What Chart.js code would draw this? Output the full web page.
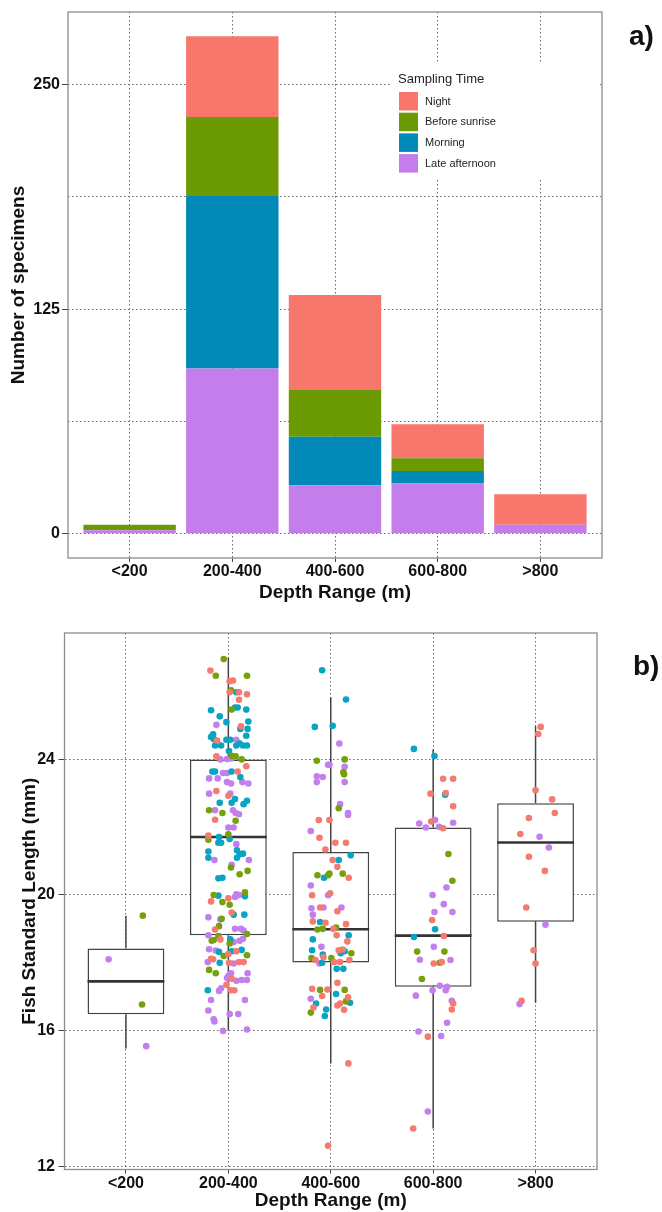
<!DOCTYPE html>
<html>
<head>
<meta charset="utf-8">
<script src="https://cdn.jsdelivr.net/npm/chart.js@4.4.1/dist/chart.umd.min.js"></script>
<style>
  body { margin: 0; background: #fff; }
  #wrap { position: relative; width: 662px; height: 1212px; overflow: hidden; }
  canvas { position: absolute; left: 0; }
  #barChart { top: 0; }
  #boxChart { top: 605px; }
  .panel { position: absolute; font: bold 28px 'Liberation Sans', Arial, sans-serif; color: #111; line-height: 32px; }
</style>
</head>
<body>
<div id="wrap">
  <canvas id="barChart" width="662" height="605"></canvas>
  <canvas id="boxChart" width="662" height="607"></canvas>
  <div class="panel" style="left:629px; top:20px;">a)</div>
  <div class="panel" style="left:633px; top:650px;">b)</div>
</div>
<script>
// ================================
// Data: shared categories
// ================================
const depthLabels = ["<200", "200-400", "400-600", "600-800", ">800"];

// ================================
// Data: panel a) number of specimens per sampling time
// ================================
const lateAfternoon = [2, 92, 27, 28, 5];
const morning       = [0, 96, 27, 7, 0];
const beforeSunrise = [3, 44, 26, 7, 0];
const night         = [0, 45, 53, 19, 17];
const countTicks  = [0, 62.5, 125, 187.5, 250];
const countLabels = [0, 125, 250];

// ================================
// Data: panel b) box plot statistics (mm)
// ================================
const whiskerLow  = [15.47, 16.0, 15.03, 13.11, 16.82];
const q1          = [16.48, 18.81, 18.01, 17.29, 19.21];
const median      = [17.45, 21.71, 18.99, 18.80, 21.55];
const q3          = [18.42, 24.0, 21.27, 21.99, 22.71];
const whiskerHigh = [19.39, 27.0, 25.83, 24.29, 24.98];
const lengthTicks = [12, 16, 20, 24];

// jittered specimens: [x on depth axis, standard length]
const nightPts = [
  [1.825,26.62],[2.013,26.31],[2.045,26.33],[2.013,25.98],[2.104,25.98],[2.182,25.92],[2.104,25.76],[2.123,24.98],
  [1.89,24.56],[1.883,24.09],[2.175,23.8],[2.091,23.64],[1.883,23.07],[2.0,22.93],[1.87,22.22],[1.805,21.75],
  [2.0,19.9],[1.831,19.81],[2.032,19.48],[1.87,18.98],[1.922,18.69],[2.0,18.26],[2.078,18.34],[1.831,18.12],
  [1.851,18.1],[2.006,18.0],[2.104,18.02],[2.149,18.02],[2.032,17.53],[1.981,17.35],[2.026,17.19],[2.058,17.19],
  [2.883,22.21],[2.987,22.21],[2.89,21.69],[3.045,21.54],[3.149,21.54],[2.948,21.34],[3.019,21.03],[3.065,20.83],
  [3.175,20.51],[2.818,19.99],[2.994,20.05],[2.896,19.63],[3.065,19.52],[2.825,19.22],[2.948,19.18],[3.149,19.14],
  [3.026,19.0],[3.058,18.81],[3.162,18.63],[3.078,18.37],[3.117,18.39],[2.851,18.08],[2.929,18.16],[3.032,18.02],
  [3.091,18.02],[3.182,18.08],[3.065,17.41],[2.818,17.23],[2.968,17.21],[2.916,17.02],[3.169,16.98],[3.091,16.8],
  [3.065,16.74],[2.831,16.68],[3.13,16.61],[3.172,15.03],[2.974,12.6],
  [4.097,23.43],[4.195,23.43],[3.974,22.99],[4.123,23.01],[4.195,22.62],[3.981,22.17],[4.097,21.97],[3.99,19.26],
  [4.104,18.79],[4.006,17.98],[4.084,18.02],[4.195,16.8],[4.182,16.62],[3.948,15.82],[3.805,13.11],
  [5.05,24.96],[5.026,24.75],[5.0,23.09],[5.162,22.82],[5.188,22.42],[4.935,22.27],[4.851,21.8],[4.935,21.13],
  [5.091,20.71],[4.909,19.63],[4.981,18.37],[5.0,17.98],[4.864,16.88]
];
const sunrisePts = [
  [1.165,19.39],[1.157,16.77],
  [1.955,26.96],[1.877,26.47],[2.182,26.47],[2.026,26.04],[2.032,25.47],[2.032,24.11],[2.071,24.09],[2.13,24.0],
  [1.812,22.5],[1.942,22.42],[2.071,22.19],[2.0,21.79],[1.805,21.63],[2.026,20.81],[2.188,20.71],[2.11,20.61],
  [2.162,20.08],[1.857,20.0],[1.942,19.79],[2.013,19.71],[1.935,19.3],[1.909,19.08],[2.182,18.85],[1.903,18.79],
  [1.838,18.65],[1.857,18.67],[2.013,18.57],[1.955,18.2],[2.182,18.22],[1.812,17.79],[1.877,17.69],
  [2.864,23.96],[3.136,24.0],[3.123,23.62],[3.13,23.56],[3.078,22.56],[2.87,20.58],[2.974,20.58],[2.987,20.63],
  [3.117,20.63],[2.87,18.98],[2.922,19.0],[3.052,19.04],[3.201,18.28],[2.812,18.14],[3.006,18.14],[2.896,17.2],
  [3.136,17.2],[3.149,16.86],[2.805,16.53],
  [4.149,21.21],[4.188,20.42],[3.844,18.33],[4.11,18.33],[4.065,18.0],[3.89,17.52]
];
const morningPts = [
  [2.078,25.98],[1.831,25.45],[2.065,25.53],[2.091,25.53],[2.175,25.47],[1.916,25.27],[1.981,25.1],[2.195,25.12],
  [2.117,24.9],[2.188,24.9],[1.851,24.74],[1.831,24.66],[2.175,24.7],[1.857,24.6],[1.981,24.58],[2.019,24.58],
  [2.11,24.47],[2.143,24.41],[2.182,24.41],[1.87,24.41],[1.929,24.41],[2.078,24.41],[2.006,24.25],[1.844,23.64],
  [1.87,23.64],[2.032,23.64],[2.117,23.48],[2.065,22.83],[2.032,22.72],[2.182,22.78],[2.149,22.68],[1.916,22.72],
  [1.909,21.71],[2.013,21.65],[1.903,21.54],[1.929,21.54],[1.805,21.28],[2.084,21.32],[2.11,21.2],[2.143,21.22],
  [1.805,21.1],[2.084,21.1],[1.903,20.49],[1.942,20.51],[1.903,19.98],[2.162,19.96],[2.052,19.42],[2.156,19.42],
  [2.019,18.69],[1.909,18.32],[2.032,18.34],[2.13,18.38],[1.916,18.0],[1.799,17.19],
  [2.916,26.63],[3.149,25.77],[2.844,24.96],[3.019,24.99],[3.195,21.17],[3.078,21.03],[2.935,20.51],[2.896,19.2],
  [3.175,18.81],[2.825,18.69],[2.818,18.37],[3.097,18.28],[3.136,18.34],[2.922,18.24],[2.916,18.0],[3.058,17.82],
  [3.123,17.82],[3.052,17.08],[3.188,16.82],[2.857,16.8],[2.955,16.62],[2.942,16.43],
  [3.812,24.31],[4.013,24.1],[4.117,22.96],[4.019,18.99],[3.812,18.76]
];
const afternoonPts = [
  [0.831,18.1],[1.198,15.54],
  [1.883,25.02],[2.078,24.58],[1.922,24.0],[1.987,24.01],[2.026,24.03],[1.948,23.6],[1.987,23.6],[1.812,23.44],
  [1.896,23.44],[1.987,23.33],[2.026,23.29],[2.137,23.33],[2.195,23.29],[1.812,22.99],[2.019,22.99],[1.87,22.5],
  [2.045,22.5],[2.071,22.42],[2.104,22.38],[2.0,21.99],[2.052,21.99],[2.078,21.5],[1.864,21.03],[2.201,21.03],
  [2.032,20.89],[2.078,20.02],[2.104,20.0],[2.065,19.94],[1.805,19.34],[1.922,19.28],[2.065,19.0],[2.123,19.0],
  [2.149,18.95],[1.805,18.81],[2.052,18.61],[2.11,18.65],[2.143,18.71],[1.812,18.4],[1.877,18.36],[1.799,18.02],
  [2.052,17.98],[2.026,17.69],[2.0,17.61],[2.188,17.69],[1.987,17.55],[2.078,17.47],[2.13,17.49],[2.182,17.49],
  [1.929,17.25],[1.909,17.17],[1.831,16.9],[2.162,16.9],[1.805,16.59],[1.857,16.33],[1.864,16.27],[2.013,16.49],
  [2.097,16.49],[1.948,15.99],[2.182,16.03],
  [3.084,24.47],[2.974,23.84],[2.987,23.84],[3.136,23.78],[2.864,23.5],[2.922,23.48],[2.864,23.33],[3.136,23.33],
  [3.091,22.68],[3.169,22.42],[3.169,22.36],[2.805,21.89],[2.805,20.28],[2.974,19.99],[2.812,19.61],[2.929,19.63],
  [3.104,19.63],[2.825,19.42],[2.909,18.47],[2.89,17.98],[2.805,16.94],
  [4.019,22.21],[3.864,22.11],[3.929,21.99],[4.058,22.01],[4.195,22.13],[4.13,20.22],[3.994,20.0],[4.104,19.73],
  [4.013,19.5],[4.188,19.5],[4.006,18.47],[3.87,18.09],[4.169,18.08],[4.065,17.32],[4.136,17.29],[3.994,17.19],
  [4.123,17.19],[3.831,17.03],[4.182,16.88],[4.136,16.23],[3.857,15.97],[4.078,15.84],[3.948,13.61],
  [5.039,21.72],[5.13,21.4],[5.097,19.12],[4.844,16.78]
];

// ================================
// Shared look
// ================================
const FONT = "'Liberation Sans', Arial, Helvetica, sans-serif";
Chart.defaults.font.family = FONT;
Chart.defaults.color = "#111";
Chart.defaults.animation = false;

const BOX_W = 0.75;   // box width in category units
const GRID = "#6a6a6a";
const DOTS = [1.5, 2.5];

const toXY = vals => vals.map((v, i) => ({ x: i + 1, y: v }));
const toPts = arr => arr.map(p => ({ x: p[0], y: p[1] }));
const depthTicks = s => { s.ticks = depthLabels.map((_, i) => ({ value: i + 1 })); };

// grey frame round the plot area
const panelBorder = {
    id: "panelBorder",
    afterDraw(chart) {
        const { ctx, chartArea: a } = chart;
        ctx.save();
        ctx.strokeStyle = "#8c8c8c";
        ctx.lineWidth = 1.3;
        ctx.strokeRect(a.left, a.top, a.right - a.left, a.bottom - a.top);
        ctx.restore();
    }
};

// legend drawn inside the plot, like ggplot's legend.position
const insideLegend = {
    id: "insideLegend",
    afterDatasetsDraw(chart) {
        const { ctx, chartArea: a } = chart;
        const left = a.left + 322, top = a.top + 51;
        ctx.save();
        ctx.fillStyle = "#fff";
        ctx.fillRect(left, top, a.right - 3 - left, 117);
        ctx.fillStyle = "#222";
        ctx.font = "13px " + FONT;
        ctx.textBaseline = "alphabetic";
        ctx.fillText("Sampling Time", left + 8, top + 20);
        chart.data.datasets.slice().reverse().forEach((ds, i) => {
            const ky = top + 29 + i * 20.7;
            ctx.fillStyle = ds.backgroundColor;
            ctx.fillRect(left + 9, ky, 19, 18.5);
            ctx.fillStyle = "#222";
            ctx.font = "11px " + FONT;
            ctx.textBaseline = "middle";
            ctx.fillText(ds.label, left + 35, ky + 9.5);
        });
        ctx.restore();
    }
};

// ========================================================
// Panel a) stacked bars
// ========================================================
new Chart(document.getElementById("barChart"), {
    type: "bar",
    data: {
        datasets: [
            { label: "Late afternoon", data: toXY(lateAfternoon), backgroundColor: "#C47EEC" },
            { label: "Morning",        data: toXY(morning),       backgroundColor: "#0189B8" },
            { label: "Before sunrise", data: toXY(beforeSunrise), backgroundColor: "#6B9A02" },
            { label: "Night",          data: toXY(night),         backgroundColor: "#F8776D" }
        ]
    },
    options: {
        responsive: false,
        events: [],
        layout: { padding: { top: 12, right: 60, left: 0, bottom: 0 } },
        datasets: { bar: { barPercentage: 0.9, categoryPercentage: 1, borderWidth: 0 } },
        plugins: { legend: { display: false }, tooltip: { enabled: false } },
        scales: {
            x: {
                type: "linear", stacked: true, min: 0.4, max: 5.6, offset: false,
                afterBuildTicks: depthTicks,
                afterFit: s => { s.height = 47; },
                ticks: { callback: v => depthLabels[v - 1], autoSkip: false, maxRotation: 0,
                         font: { size: 16, weight: "bold" }, padding: 0, color: "#111" },
                grid: { color: GRID, offset: false, tickLength: 4, tickColor: "#444" },
                border: { display: false, dash: DOTS },
                title: { display: true, text: "Depth Range (m)", color: "#111",
                         font: { size: 19, weight: "bold" }, padding: { top: 0, bottom: 0.6 } }
            },
            y: {
                stacked: true, min: -13.5, max: 290.5,
                afterBuildTicks: s => { s.ticks = countTicks.map(v => ({ value: v })); },
                afterFit: s => { s.width = 68; },
                ticks: { callback: v => countLabels.includes(v) ? v : "",
                         font: { size: 16, weight: "bold" }, padding: 2, color: "#111" },
                grid: { color: GRID, tickLength: 6,
                        tickColor: c => c.tick && countLabels.includes(c.tick.value) ? "#444" : "rgba(0,0,0,0)" },
                border: { display: false, dash: DOTS },
                title: { display: true, text: "Number of specimens", color: "#111",
                         font: { size: 19, weight: "bold" }, padding: { top: 7.6, bottom: 0 } }
            }
        }
    },
    plugins: [insideLegend, panelBorder]
});

// ========================================================
// Panel b) box plots with jittered specimens
// ========================================================
const segs = (a, b) => a.flatMap((v, i) => [{ x: i + 1, y: v }, { x: i + 1, y: b[i] }, { x: i + 1, y: null }]);
const medianSegs = median.flatMap((m, i) => [
    { x: i + 1 - BOX_W / 2, y: m }, { x: i + 1 + BOX_W / 2, y: m }, { x: i + 1, y: null }
]);
const ptStyle = c => ({ pointRadius: 3.3, pointBorderWidth: 0, backgroundColor: c, borderColor: c, order: 0 });

new Chart(document.getElementById("boxChart"), {
    type: "scatter",
    data: {
        datasets: [
            { label: "Night",          data: toPts(nightPts),     ...ptStyle("#F47B70") },
            { label: "Before sunrise", data: toPts(sunrisePts),   ...ptStyle("#76A00C") },
            { label: "Morning",        data: toPts(morningPts),   ...ptStyle("#07A4C3") },
            { label: "Late afternoon", data: toPts(afternoonPts), ...ptStyle("#C27FEE") },
            { type: "line", data: medianSegs, borderColor: "#333", borderWidth: 2.6, pointRadius: 0, order: 1 },
            { type: "bar", data: q1.map((v, i) => ({ x: i + 1, y: [v, q3[i]] })), backgroundColor: "#fff",
              borderColor: "#444", borderWidth: 1.5, borderSkipped: false,
              barPercentage: BOX_W, categoryPercentage: 1, order: 2 },
            { type: "line", data: segs(whiskerLow, q1).concat(segs(q3, whiskerHigh)), borderColor: "#444",
              borderWidth: 1.5, pointRadius: 0, spanGaps: false, order: 3 }
        ]
    },
    options: {
        responsive: false,
        events: [],
        layout: { padding: { top: 28, right: 65, left: 0, bottom: 0 } },
        plugins: { legend: { display: false }, tooltip: { enabled: false } },
        scales: {
            x: {
                type: "linear", min: 0.4, max: 5.6, offset: false,
                afterBuildTicks: depthTicks,
                afterFit: s => { s.height = 42.5; },
                ticks: { callback: v => depthLabels[v - 1], autoSkip: false, maxRotation: 0,
                         font: { size: 16, weight: "bold" }, padding: 0, color: "#111" },
                grid: { color: GRID, offset: false, tickLength: 4, tickColor: "#444" },
                border: { display: false, dash: DOTS },
                title: { display: true, text: "Depth Range (m)", color: "#111",
                         font: { size: 19, weight: "bold" }, padding: { top: 0, bottom: 0.1 } }
            },
            y: {
                type: "linear", min: 11.9, max: 27.73,
                afterBuildTicks: s => { s.ticks = lengthTicks.map(v => ({ value: v })); },
                afterFit: s => { s.width = 64.5; },
                ticks: { font: { size: 16, weight: "bold" }, padding: 3.5, color: "#111" },
                grid: { color: GRID, tickLength: 6, tickColor: "#444" },
                border: { display: false, dash: DOTS },
                title: { display: true, text: "Fish Standard Length (mm)", color: "#111",
                         font: { size: 19, weight: "bold" }, padding: { top: 18.6, bottom: 0 } }
            }
        }
    },
    plugins: [panelBorder]
});
</script>
</body>
</html>
